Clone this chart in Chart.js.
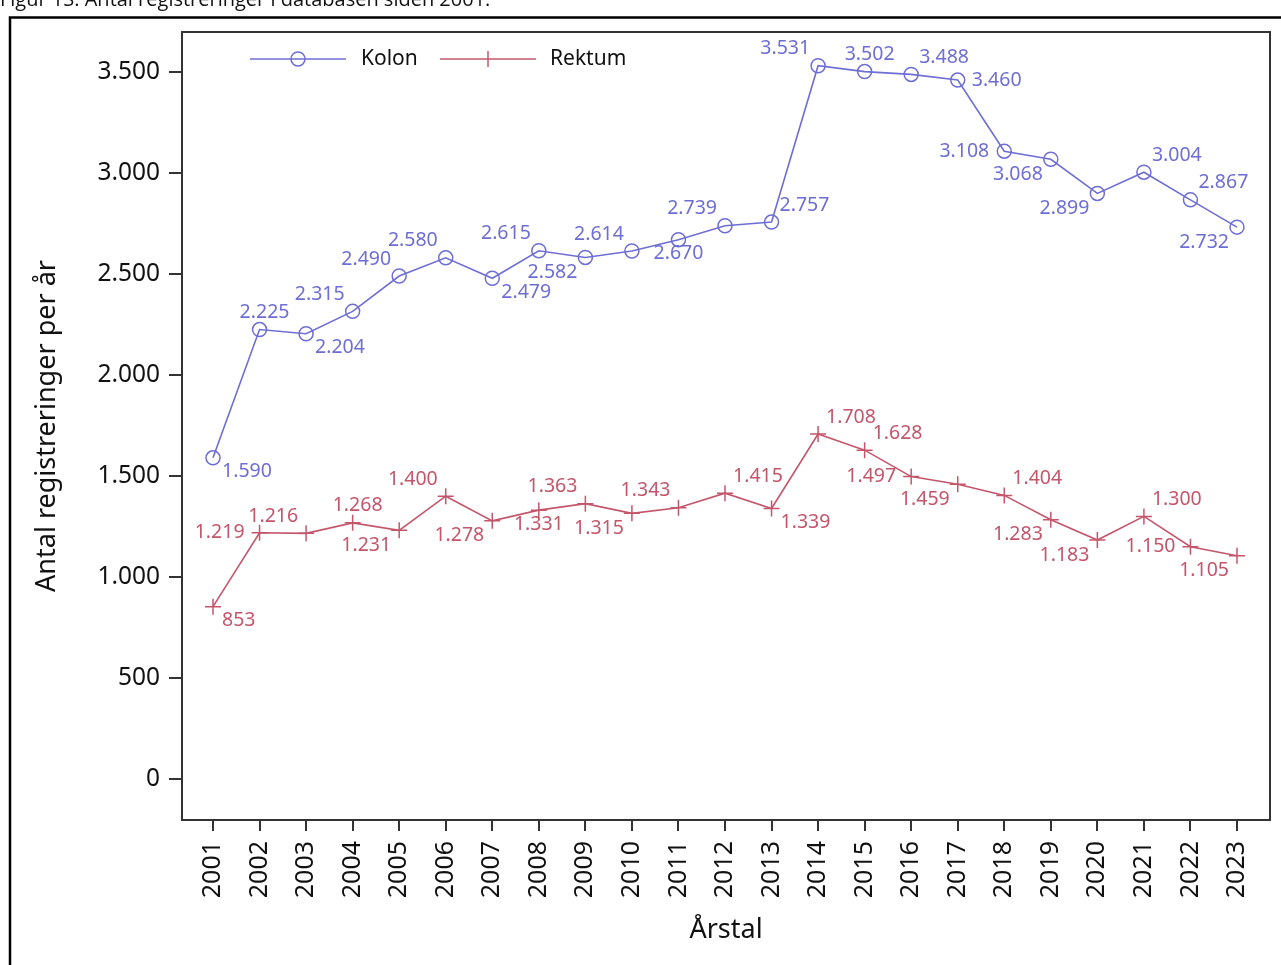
<!DOCTYPE html>
<html>
<head>
<meta charset="utf-8">
<script src="https://cdn.jsdelivr.net/npm/chart.js@4"></script>
<style>
  html, body { margin: 0; padding: 0; background: #fff; }
  #wrap { position: relative; width: 1281px; height: 965px; }
</style>
</head>
<body>
<div id="wrap"><canvas id="regChart" width="1281" height="965"></canvas></div>
<script>
// data
const years = [2001, 2002, 2003, 2004, 2005, 2006, 2007, 2008, 2009, 2010, 2011, 2012,
               2013, 2014, 2015, 2016, 2017, 2018, 2019, 2020, 2021, 2022, 2023];
const kolon = [1590, 2225, 2204, 2315, 2490, 2580, 2479, 2615, 2582, 2614, 2670, 2739,
               2757, 3531, 3502, 3488, 3460, 3108, 3068, 2899, 3004, 2867, 2732];
const rektum = [853, 1219, 1216, 1268, 1231, 1400, 1278, 1331, 1363, 1315, 1343, 1415,
                1339, 1708, 1628, 1497, 1459, 1404, 1283, 1183, 1300, 1150, 1105];
const yTicks = [0, 500, 1000, 1500, 2000, 2500, 3000, 3500];

// where each point label sits (u/d/l/r and corners)
const kolonPos = ["lr", "u", "lr", "ul", "ul", "ul", "lr", "ul", "ll", "ul", "d", "ul",
                  "ur", "ul", "u", "ur", "r", "l", "ll", "ll", "ur", "ur", "ll"];
const rektumPos = ["lr", "l", "ul", "u", "ll", "ul", "ll", "d", "ul", "ll", "ul", "ur",
                   "lr", "ur", "ur", "l", "ll", "ur", "ll", "ll", "ur", "l", "ll"];

const blue = "#6e6ed4";
const red = "#c4566b";
const axisColor = "#333333";
const fontFam = "'Noto Sans', 'DejaVu Sans', sans-serif";

function fmt(v) {
    return v.toString().replace(/\B(?=(\d{3})+(?!\d))/g, ".");
}

const pageDecor = {
    id: "pageDecor",
    beforeDraw(chart) {
        const c = chart.ctx;
        c.save();
        c.fillStyle = "#fff";
        c.fillRect(0, 0, chart.width, chart.height);
        // title, cut at the top in the original
        c.fillStyle = "#111";
        c.font = "20px 'Open Sans', sans-serif";
        c.textBaseline = "alphabetic";
        c.textAlign = "left";
        c.fillText("Figur 1S. Antal registreringer i databasen siden 2001.", 0, 6);
        // outer frame
        c.strokeStyle = "#000";
        c.lineWidth = 2.5;
        c.strokeRect(10, 17.5, 1300, 1000);
        c.restore();
    },
    afterDraw(chart) {
        const c = chart.ctx;
        const a = chart.chartArea;
        c.save();
        c.strokeStyle = axisColor;
        c.lineWidth = 2;
        c.strokeRect(a.left, a.top, a.right - a.left, a.bottom - a.top);

        // point labels
        c.font = "19.5px " + fontFam;
        c.textBaseline = "middle";
        const sets = [[0, kolonPos, blue], [1, rektumPos, red]];
        sets.forEach(([di, pos, col]) => {
            const meta = chart.getDatasetMeta(di);
            c.fillStyle = col;
            meta.data.forEach((pt, i) => {
                const txt = fmt(chart.data.datasets[di].data[i].y);
                let x = pt.x, y = pt.y;
                switch (pos[i]) {
                    case "ul": c.textAlign = "right"; x -= 8; y -= 17; break;
                    case "ur": c.textAlign = "left"; x += 8; y -= 17; break;
                    case "ll": c.textAlign = "right"; x -= 8; y += 15; break;
                    case "lr": c.textAlign = "left"; x += 9; y += 14; break;
                    case "l": c.textAlign = "right"; x -= 15; break;
                    case "r": c.textAlign = "left"; x += 14; break;
                    case "u": c.textAlign = "center"; x += 5; y -= 17; break;
                    case "d": c.textAlign = "center"; y += 14; break;
                }
                c.fillText(txt, x, y);
            });
        });

        // legend
        const ly = 59;
        c.lineWidth = 1.5;
        c.strokeStyle = blue;
        c.beginPath(); c.moveTo(250, ly); c.lineTo(346, ly); c.stroke();
        c.beginPath(); c.arc(298, ly, 7, 0, Math.PI * 2); c.stroke();
        c.strokeStyle = red;
        c.beginPath(); c.moveTo(440, ly); c.lineTo(536, ly); c.stroke();
        c.beginPath(); c.moveTo(488, ly - 8); c.lineTo(488, ly + 8); c.stroke();
        c.fillStyle = "#111";
        c.font = "21px " + fontFam;
        c.textAlign = "left";
        c.fillText("Kolon", 361, ly);
        c.fillText("Rektum", 550, ly);
        c.restore();
    }
};

const ctx = document.getElementById("regChart").getContext("2d");

const chart = new Chart(ctx, {
    type: "line",
    data: {
        datasets: [
            {
                label: "Kolon",
                data: years.map((yr, i) => ({ x: yr, y: kolon[i] })),
                borderColor: blue,
                backgroundColor: "transparent",
                borderWidth: 1.6,
                pointStyle: "circle",
                pointRadius: 7,
                pointBorderWidth: 1.5,
                pointBorderColor: blue,
                pointBackgroundColor: "rgba(255,255,255,0)",
                tension: 0
            },
            {
                label: "Rektum",
                data: years.map((yr, i) => ({ x: yr, y: rektum[i] })),
                borderColor: red,
                backgroundColor: "transparent",
                borderWidth: 1.6,
                pointStyle: "cross",
                pointRadius: 8,
                pointBorderWidth: 1.5,
                pointBorderColor: red,
                tension: 0
            }
        ]
    },
    options: {
        responsive: false,
        animation: false,
        devicePixelRatio: 1,
        layout: { padding: { top: 32, right: 11, left: 0, bottom: 0 } },
        plugins: {
            legend: { display: false },
            tooltip: { enabled: false }
        },
        scales: {
            x: {
                type: "linear",
                min: 2000.334,
                max: 2023.709,
                afterBuildTicks: function (scale) {
                    scale.ticks = years.map(v => ({ value: v }));
                },
                afterFit: function (scale) {
                    scale.height = 145;
                },
                border: { display: false },
                grid: {
                    drawOnChartArea: false,
                    drawTicks: true,
                    tickLength: 11,
                    color: axisColor,
                    lineWidth: 2
                },
                ticks: {
                    autoSkip: false,
                    minRotation: 90,
                    maxRotation: 90,
                    padding: 10,
                    color: "#111",
                    font: { family: fontFam, size: 25 },
                    callback: v => String(v)
                },
                title: {
                    display: true,
                    text: "Årstal",
                    color: "#111",
                    font: { family: fontFam, size: 27 },
                    padding: { top: 0, bottom: 18 }
                }
            },
            y: {
                min: -203,
                max: 3698,
                afterBuildTicks: function (scale) {
                    scale.ticks = yTicks.map(v => ({ value: v }));
                },
                afterFit: function (scale) {
                    scale.width = 182;
                },
                border: { display: false },
                grid: {
                    drawOnChartArea: false,
                    drawTicks: true,
                    tickLength: 13,
                    color: axisColor,
                    lineWidth: 2
                },
                ticks: {
                    padding: 9,
                    color: "#111",
                    font: { family: fontFam, size: 24.5 },
                    callback: v => fmt(v)
                },
                title: {
                    display: true,
                    text: "Antal registreringer per år",
                    color: "#111",
                    font: { family: fontFam, size: 27 },
                    padding: { top: 31, bottom: 0 }
                }
            }
        }
    },
    plugins: [pageDecor]
});
</script>
</body>
</html>
